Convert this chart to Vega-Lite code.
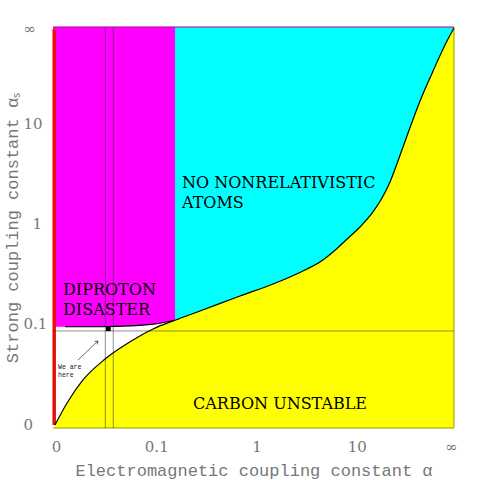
{
  "$schema": "https://vega.github.io/schema/vega-lite/v6.json",
  "width": 401,
  "height": 401,
  "autosize": {"type": "none"},
  "padding": {"left": 53, "top": 27, "right": 26, "bottom": 52},
  "background": "white",
  "view": {"stroke": null},
  "datasets": {
    "curve": [
      {"x": 0.02, "y": 0.03},
      {"x": 0.14, "y": 0.249},
      {"x": 0.299, "y": 0.479},
      {"x": 0.519, "y": 0.688},
      {"x": 0.798, "y": 0.878},
      {"x": 0.998, "y": 0.988},
      {"x": 1.217, "y": 1.075},
      {"x": 1.466, "y": 1.167},
      {"x": 1.865, "y": 1.317},
      {"x": 2.195, "y": 1.436},
      {"x": 2.364, "y": 1.506},
      {"x": 2.534, "y": 1.586},
      {"x": 2.663, "y": 1.656},
      {"x": 2.793, "y": 1.756},
      {"x": 2.923, "y": 1.875},
      {"x": 3.062, "y": 2.005},
      {"x": 3.192, "y": 2.155},
      {"x": 3.282, "y": 2.294},
      {"x": 3.362, "y": 2.454},
      {"x": 3.441, "y": 2.663},
      {"x": 3.531, "y": 2.913},
      {"x": 3.661, "y": 3.262},
      {"x": 3.791, "y": 3.561},
      {"x": 3.93, "y": 3.86},
      {"x": 4.0, "y": 3.99}
    ],
    "diproton": [
      {"x": 0.0, "y": 1.01},
      {"x": 0.12, "y": 1.01},
      {"x": 0.47, "y": 1.01},
      {"x": 0.77, "y": 1.018},
      {"x": 1.02, "y": 1.038},
      {"x": 1.217, "y": 1.075}
    ],
    "redbar": [{"x": 0.012, "y": 0.03, "y2": 3.977}],
    "olive": [
      {"x": 4, "y": 0, "x2": 4, "y2": 4},
      {"x": 0, "y": 0, "x2": 4, "y2": 0}
    ],
    "topline": [{"x": 0, "y": 4, "x2": 4, "y2": 4}],
    "refs": [
      {"x": 0, "y": 0.968, "x2": 4, "y2": 0.968},
      {"x": 0.522, "y": 0, "x2": 0.522, "y2": 4},
      {"x": 0.601, "y": 0, "x2": 0.601, "y2": 4}
    ],
    "here": [{"x": 0.552, "y": 0.99}],
    "arrow": [{"x": 0.249, "y": 0.678, "x2": 0.449, "y2": 0.868}],
    "labels": [
      {"x": 1.287, "y": 2.394, "text": "NO NONRELATIVISTIC"},
      {"x": 1.287, "y": 2.195, "text": "ATOMS"},
      {"x": 0.10, "y": 1.327, "text": "DIPROTON"},
      {"x": 0.10, "y": 1.127, "text": "DISASTER"},
      {"x": 1.397, "y": 0.19, "text": "CARBON UNSTABLE"}
    ],
    "small": [
      {"x": 0.05, "y": 0.585, "text": "We are"},
      {"x": 0.05, "y": 0.505, "text": "here"}
    ]
  },
  "encoding": {
    "x": {
      "field": "x", "type": "quantitative",
      "scale": {"domain": [0, 4], "nice": false, "zero": false},
      "axis": {
        "values": [0, 1, 2, 3, 4],
        "labelExpr": "datum.value == 0 ? '0' : datum.value == 1 ? '0.1' : datum.value == 2 ? '1' : datum.value == 3 ? '10' : '∞'",
        "title": "Electromagnetic coupling constant α",
        "grid": false, "ticks": false, "domain": false,
        "labelFlush": false, "labelOverlap": false, "labelBound": false,
        "labelFont": "DejaVu Serif", "labelFontSize": 15, "labelColor": "#777777",
        "labelPadding": 11,
        "labelOffset": {"condition": {"test": "datum.value == 4", "value": -3}, "value": 3},
        "titleFont": "Liberation Mono", "titleFontSize": 17, "titleFontWeight": "normal",
        "titleColor": "#777777", "titleY": 47, "titleBaseline": "alphabetic"
      }
    },
    "y": {
      "field": "y", "type": "quantitative",
      "scale": {"domain": [0, 4], "nice": false, "zero": false},
      "axis": {
        "values": [0, 1, 2, 3, 4],
        "labelExpr": "datum.value == 0 ? '0' : datum.value == 1 ? '0.1' : datum.value == 2 ? '1' : datum.value == 3 ? '10' : '∞'",
        "title": "Strong coupling constant αₛ",
        "grid": false, "ticks": false, "domain": false,
        "labelFlush": false, "labelOverlap": false, "labelBound": false,
        "labelFont": "DejaVu Serif", "labelFontSize": 15, "labelColor": "#777777",
        "labelAlign": "left", "labelBaseline": "middle",
        "labelPadding": {"condition": {"test": "datum.value == 2", "value": 21}, "value": 30},
        "labelOffset": {"condition": {"test": "datum.value == 4", "value": 1}, "value": -4},
        "titleFont": "Liberation Mono", "titleFontSize": 17, "titleFontWeight": "normal",
        "titleColor": "#777777", "titleX": -41, "titleBaseline": "middle"
      }
    }
  },
  "layer": [
    {
      "data": {"name": "curve"},
      "transform": [{"filter": "datum.x >= 1.217"}],
      "mark": {"type": "area", "color": "#00FFFF", "interpolate": "monotone"},
      "encoding": {"y2": {"datum": 4}}
    },
    {
      "data": {"name": "diproton"},
      "mark": {"type": "area", "color": "#FF00FF", "interpolate": "monotone"},
      "encoding": {"y2": {"datum": 4}}
    },
    {
      "data": {"name": "curve"},
      "mark": {"type": "area", "color": "#FFFF00", "interpolate": "monotone"},
      "encoding": {"y2": {"datum": 0}}
    },
    {
      "data": {"name": "redbar"},
      "mark": {"type": "rule", "stroke": "#E81008", "strokeWidth": 3.5},
      "encoding": {"y2": {"field": "y2"}}
    },
    {
      "data": {"name": "olive"},
      "mark": {"type": "rule", "stroke": "#999900", "strokeWidth": 1},
      "encoding": {"x2": {"field": "x2"}, "y2": {"field": "y2"}}
    },
    {
      "data": {"name": "topline"},
      "mark": {"type": "rule", "stroke": "#AA00AA", "strokeWidth": 1.2},
      "encoding": {"x2": {"field": "x2"}, "y2": {"field": "y2"}}
    },
    {
      "data": {"name": "refs"},
      "mark": {"type": "rule", "stroke": "#333333", "strokeOpacity": 0.55, "strokeWidth": 1},
      "encoding": {"x2": {"field": "x2"}, "y2": {"field": "y2"}}
    },
    {
      "data": {"name": "curve"},
      "mark": {"type": "line", "color": "#000000", "strokeWidth": 1.2, "interpolate": "monotone"},
      "encoding": {}
    },
    {
      "data": {"name": "diproton"},
      "transform": [{"filter": "datum.x >= 0.1"}],
      "mark": {"type": "line", "color": "#000000", "strokeWidth": 1.2, "interpolate": "monotone"},
      "encoding": {}
    },
    {
      "data": {"name": "here"},
      "mark": {"type": "point", "shape": "square", "filled": true, "color": "#000000", "size": 22, "opacity": 1},
      "encoding": {}
    },
    {
      "data": {"name": "arrow"},
      "mark": {"type": "rule", "stroke": "#444444", "strokeWidth": 0.8},
      "encoding": {"x2": {"field": "x2"}, "y2": {"field": "y2"}}
    },
    {
      "data": {"name": "arrow"},
      "mark": {"type": "point", "shape": "M -0.6 0.9 L 0 0 L 0.6 0.9", "filled": false, "color": "#444444", "strokeWidth": 0.8, "size": 40, "angle": 46, "opacity": 1},
      "encoding": {"x": {"field": "x2"}, "y": {"field": "y2"}}
    },
    {
      "data": {"name": "labels"},
      "mark": {"type": "text", "font": "DejaVu Serif", "fontSize": 16, "color": "#000000", "align": "left", "baseline": "alphabetic"},
      "encoding": {"text": {"field": "text"}}
    },
    {
      "data": {"name": "small"},
      "mark": {"type": "text", "font": "Liberation Mono", "fontSize": 6.5, "color": "#222222", "align": "left", "baseline": "alphabetic"},
      "encoding": {"text": {"field": "text"}}
    }
  ]
}
